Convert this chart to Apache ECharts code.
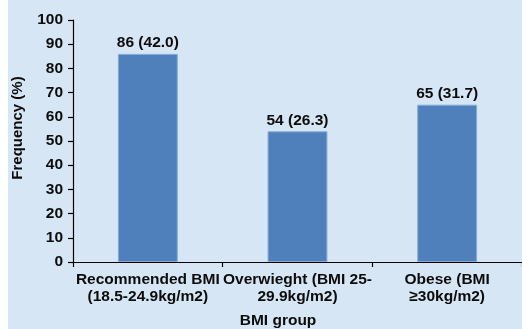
<!DOCTYPE html>
<html>
<head>
<meta charset="utf-8">
<script src="https://cdn.jsdelivr.net/npm/echarts@6/dist/echarts.min.js"></script>
<style>
  html, body { margin: 0; padding: 0; background: #ffffff; }
  #chart {
    width: 522px; height: 329px;
    background: linear-gradient(to right, #ffffff 0, #ffffff 8px, #d6e6f4 8px, #d6e6f4 100%);
  }
</style>
</head>
<body>
<div id="chart"></div>
<script>
// BMI groups with counts and their share of the sample
const categories = [
  'Recommended BMI\n(18.5-24.9kg/m2)',
  'Overwieght (BMI 25-\n29.9kg/m2)',
  'Obese (BMI\n\u226530kg/m2)'
];
const counts = [86, 54, 65];
const percents = ['42.0', '26.3', '31.7'];
const yTicks = { min: 0, max: 100, step: 10 };

const font = 'Liberation Sans, Arial, sans-serif';
const ink = '#0c0c0c';
const size = 15.5;

const chart = echarts.init(document.getElementById('chart'), null, { renderer: 'canvas' });

chart.setOption({
  backgroundColor: 'transparent',
  animation: false,
  grid: { left: 73, top: 20, width: 456, bottom: 67, containLabel: false },
  xAxis: {
    type: 'category',
    data: categories,
    boundaryGap: true,
    axisLine: { show: true, lineStyle: { color: '#000', width: 1.2 } },
    axisTick: { show: true, alignWithLabel: false, length: 5, lineStyle: { color: '#000', width: 1.2 } },
    axisLabel: {
      interval: 0, margin: 9,
      fontFamily: font, fontSize: size, fontWeight: 'bold', color: ink,
      lineHeight: 17, align: 'center'
    },
    splitLine: { show: false }
  },
  yAxis: {
    type: 'value',
    min: yTicks.min, max: yTicks.max, interval: yTicks.step,
    axisLine: { show: true, lineStyle: { color: '#000', width: 1.2 } },
    axisTick: { show: true, length: 5, lineStyle: { color: '#000', width: 1.2 } },
    axisLabel: { margin: 10, fontFamily: font, fontSize: size, fontWeight: 'bold', color: ink },
    splitLine: { show: false }
  },
  series: [{
    type: 'bar',
    data: counts,
    barWidth: '40%',
    itemStyle: { color: '#4f80bc', borderColor: '#86a9d4', borderWidth: 1 },
    label: {
      show: true, position: 'top', distance: 3,
      fontFamily: font, fontSize: size, fontWeight: 'bold', color: ink,
      formatter: p => counts[p.dataIndex] + ' (' + percents[p.dataIndex] + ')'
    }
  }],
  graphic: [
    {
      type: 'text', x: 18, y: 128, rotation: Math.PI / 2,
      style: {
        text: 'Frequency (%)', fontFamily: font, fontSize: 15, fontWeight: 'bold',
        fill: ink, align: 'center', verticalAlign: 'middle'
      }
    },
    {
      type: 'text', x: 278, y: 321,
      style: {
        text: 'BMI group', fontFamily: font, fontSize: size, fontWeight: 'bold',
        fill: ink, align: 'center', verticalAlign: 'middle'
      }
    }
  ]
});
</script>
</body>
</html>
